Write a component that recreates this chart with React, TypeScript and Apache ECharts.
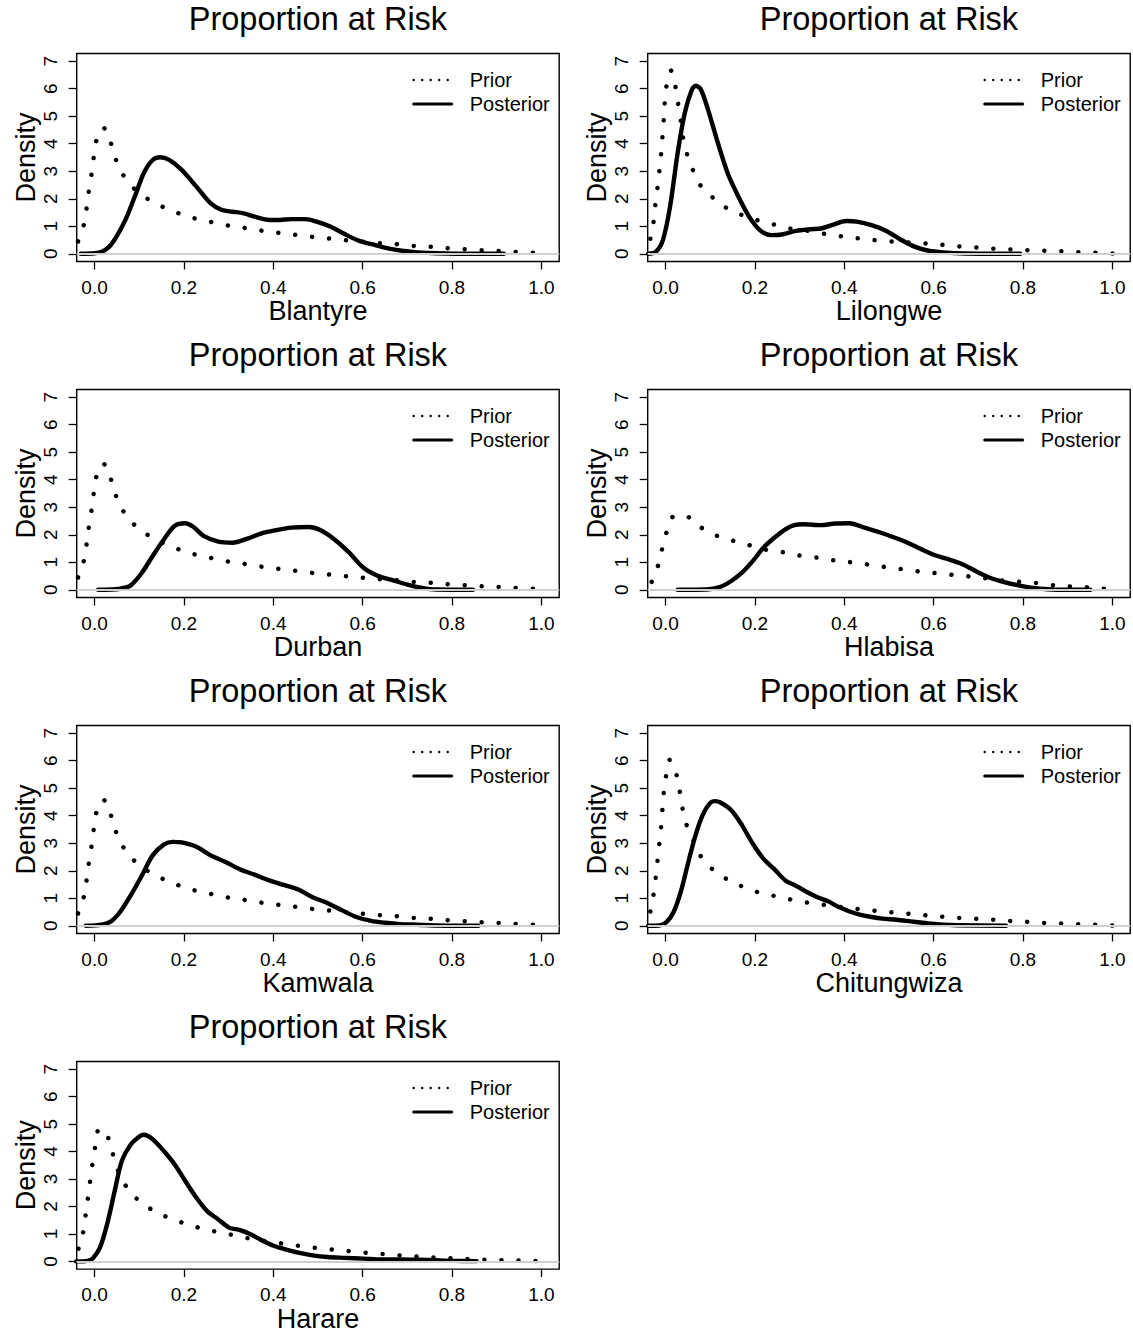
import React, { useEffect, useRef } from "react";
import * as echarts from "echarts";

type Pt = [number, number];

const sites = ["Blantyre", "Lilongwe", "Durban", "Hlabisa", "Kamwala", "Chitungwiza", "Harare"];
const panelTitle = "Proportion at Risk";
const yAxisTitle = "Density";
const legendNames = ["Prior", "Posterior"];
const xTicks = [0, 0.2, 0.4, 0.6, 0.8, 1.0];
const yTicks = [0, 1, 2, 3, 4, 5, 6, 7];

// Prior densities (shared prior for Blantyre, Durban, Kamwala)
const priorShared: Pt[] = [
  [-0.037, 0.45], [-0.024, 1.05], [-0.018, 1.65], [-0.013, 2.26], [-0.007, 2.88], [-0.002, 3.49],
  [0.004, 4.11], [0.02, 4.59], [0.036, 4.05], [0.047, 3.46], [0.063, 2.89], [0.086, 2.41],
  [0.116, 2.02], [0.149, 1.73], [0.185, 1.49], [0.221, 1.3], [0.257, 1.17], [0.295, 1.04],
  [0.333, 0.95], [0.37, 0.85], [0.409, 0.77], [0.446, 0.7], [0.484, 0.62], [0.522, 0.56],
  [0.56, 0.5], [0.597, 0.44], [0.635, 0.39], [0.673, 0.35], [0.711, 0.29], [0.749, 0.26],
  [0.786, 0.21], [0.825, 0.17], [0.863, 0.13], [0.9, 0.11], [0.939, 0.07], [0.977, 0.04], [1.015, 0.0],
];
const priorLilongwe: Pt[] = [
  [-0.034, 0.55], [-0.027, 1.15], [-0.023, 1.76], [-0.018, 2.41], [-0.014, 3.01], [-0.01, 3.62],
  [-0.007, 4.24], [-0.004, 4.86], [-0.002, 5.47], [0.002, 6.09], [0.012, 6.66], [0.022, 6.09],
  [0.028, 5.47], [0.034, 4.86], [0.039, 4.24], [0.048, 3.62], [0.061, 3.05], [0.078, 2.49],
  [0.105, 2.05], [0.134, 1.69], [0.168, 1.43], [0.203, 1.23], [0.241, 1.07], [0.278, 0.92],
  [0.315, 0.84], [0.353, 0.73], [0.391, 0.64], [0.428, 0.57], [0.466, 0.5], [0.504, 0.45],
  [0.542, 0.41], [0.58, 0.38], [0.617, 0.33], [0.655, 0.27], [0.694, 0.23], [0.731, 0.19],
  [0.77, 0.16], [0.808, 0.13], [0.846, 0.11], [0.884, 0.09], [0.922, 0.06], [0.961, 0.04],
  [0.998, 0.01], [1.036, 0.0],
];
const priorHlabisa: Pt[] = [
  [-0.031, 0.29], [-0.017, 0.87], [-0.008, 1.47], [0.002, 2.08], [0.016, 2.65], [0.045, 2.69],
  [0.076, 2.3], [0.109, 2.0], [0.145, 1.81], [0.182, 1.65], [0.219, 1.47], [0.256, 1.39],
  [0.293, 1.26], [0.331, 1.19], [0.368, 1.09], [0.406, 1.02], [0.444, 0.94], [0.482, 0.85],
  [0.519, 0.77], [0.556, 0.69], [0.594, 0.62], [0.632, 0.56], [0.67, 0.5], [0.707, 0.44],
  [0.745, 0.35], [0.783, 0.3], [0.822, 0.26], [0.859, 0.18], [0.897, 0.13], [0.935, 0.1],
  [0.973, 0.05], [1.011, 0.0],
];
const priorChitungwiza: Pt[] = [
  [-0.034, 0.52], [-0.027, 1.13], [-0.022, 1.75], [-0.018, 2.37], [-0.014, 2.98], [-0.01, 3.58],
  [-0.007, 4.24], [-0.004, 4.84], [0.001, 5.44], [0.009, 6.03], [0.023, 5.58], [0.031, 4.97],
  [0.037, 4.35], [0.045, 3.75], [0.061, 3.17], [0.075, 2.62], [0.099, 2.14], [0.129, 1.77],
  [0.163, 1.49], [0.199, 1.26], [0.236, 1.11], [0.273, 0.98], [0.31, 0.86], [0.348, 0.78],
  [0.385, 0.7], [0.423, 0.62], [0.461, 0.56], [0.499, 0.5], [0.536, 0.45], [0.574, 0.39],
  [0.613, 0.34], [0.65, 0.29], [0.688, 0.26], [0.727, 0.23], [0.764, 0.18], [0.802, 0.15],
  [0.841, 0.11], [0.879, 0.09], [0.916, 0.06], [0.955, 0.04], [0.993, 0.01], [1.031, 0.0],
];
const priorHarare: Pt[] = [
  [-0.036, 0.46], [-0.025, 1.09], [-0.02, 1.7], [-0.015, 2.3], [-0.01, 2.91], [-0.005, 3.52],
  [0.001, 4.15], [0.007, 4.75], [0.016, 4.82], [0.025, 4.75], [0.037, 4.15], [0.047, 3.55],
  [0.061, 2.99], [0.082, 2.47], [0.112, 2.05], [0.144, 1.74], [0.179, 1.51], [0.215, 1.31],
  [0.252, 1.15], [0.29, 1.03], [0.326, 0.9], [0.364, 0.78], [0.402, 0.69], [0.44, 0.61],
  [0.478, 0.52], [0.515, 0.46], [0.553, 0.4], [0.591, 0.34], [0.628, 0.29], [0.666, 0.24],
  [0.704, 0.19], [0.742, 0.16], [0.78, 0.12], [0.818, 0.1], [0.856, 0.07], [0.894, 0.05],
  [0.932, 0.04], [0.969, 0.02], [1.008, 0.0],
];

// Posterior densities
const postBlantyre: Pt[] = [
  [-0.031, 0], [0.0, 0.02], [0.016, 0.07], [0.033, 0.26], [0.049, 0.62], [0.069, 1.23],
  [0.09, 2.08], [0.11, 2.93], [0.13, 3.41], [0.147, 3.51], [0.167, 3.41], [0.195, 3.05],
  [0.228, 2.44], [0.26, 1.83], [0.285, 1.59], [0.309, 1.53], [0.334, 1.47], [0.358, 1.35],
  [0.391, 1.23], [0.415, 1.23], [0.44, 1.26], [0.472, 1.26], [0.497, 1.17], [0.529, 0.98],
  [0.562, 0.7], [0.594, 0.46], [0.627, 0.32], [0.659, 0.19], [0.692, 0.1], [0.724, 0.05],
  [0.765, 0.02], [0.847, 0.0], [0.916, 0.0],
];
const postLilongwe: Pt[] = [
  [-0.039, 0], [-0.022, 0.07], [-0.006, 0.5], [0.01, 1.71], [0.027, 3.66], [0.043, 5.12],
  [0.059, 5.97], [0.068, 6.11], [0.079, 5.97], [0.095, 5.24], [0.115, 4.14], [0.139, 2.93],
  [0.163, 2.08], [0.187, 1.35], [0.211, 0.86], [0.236, 0.68], [0.26, 0.7], [0.292, 0.83],
  [0.324, 0.89], [0.348, 0.92], [0.372, 1.04], [0.404, 1.19], [0.428, 1.17], [0.461, 1.04],
  [0.493, 0.84], [0.525, 0.53], [0.557, 0.26], [0.589, 0.11], [0.621, 0.05], [0.67, 0.01],
  [0.794, 0.0],
];
const postDurban: Pt[] = [
  [0.008, 0], [0.057, 0.04], [0.081, 0.16], [0.106, 0.62], [0.13, 1.23], [0.155, 1.83],
  [0.179, 2.32], [0.202, 2.42], [0.22, 2.3], [0.244, 1.96], [0.277, 1.75], [0.309, 1.71],
  [0.342, 1.86], [0.374, 2.05], [0.407, 2.17], [0.44, 2.26], [0.48, 2.28], [0.505, 2.17],
  [0.537, 1.83], [0.57, 1.35], [0.602, 0.8], [0.635, 0.5], [0.667, 0.35], [0.7, 0.19],
  [0.733, 0.07], [0.765, 0.01], [0.847, 0.0],
];
const postHlabisa: Pt[] = [
  [0.027, 0], [0.091, 0.01], [0.123, 0.11], [0.147, 0.32], [0.171, 0.62], [0.195, 1.04],
  [0.219, 1.53], [0.244, 1.9], [0.268, 2.2], [0.288, 2.35], [0.308, 2.38], [0.348, 2.35],
  [0.38, 2.41], [0.412, 2.42], [0.445, 2.26], [0.477, 2.1], [0.509, 1.92], [0.533, 1.77],
  [0.565, 1.53], [0.597, 1.29], [0.629, 1.13], [0.662, 0.95], [0.694, 0.68], [0.726, 0.44],
  [0.758, 0.28], [0.79, 0.16], [0.822, 0.07], [0.855, 0.02], [0.895, 0.0], [0.951, 0.0],
];
const postKamwala: Pt[] = [
  [-0.02, 0], [0.016, 0.04], [0.037, 0.16], [0.057, 0.5], [0.081, 1.11], [0.106, 1.83],
  [0.13, 2.56], [0.155, 2.95], [0.175, 3.05], [0.195, 3.03], [0.228, 2.87], [0.26, 2.56],
  [0.293, 2.32], [0.326, 2.05], [0.358, 1.86], [0.391, 1.65], [0.423, 1.49], [0.456, 1.32],
  [0.488, 1.04], [0.521, 0.83], [0.554, 0.56], [0.586, 0.32], [0.619, 0.18], [0.651, 0.11],
  [0.684, 0.06], [0.724, 0.04], [0.765, 0.01], [0.859, 0.0],
];
const postChitungwiza: Pt[] = [
  [-0.039, 0], [-0.014, 0.01], [0.002, 0.13], [0.018, 0.5], [0.034, 1.23], [0.051, 2.32],
  [0.067, 3.29], [0.083, 4.02], [0.099, 4.45], [0.111, 4.53], [0.123, 4.48], [0.147, 4.2],
  [0.171, 3.66], [0.195, 2.99], [0.219, 2.44], [0.244, 2.05], [0.268, 1.65], [0.292, 1.45],
  [0.316, 1.23], [0.34, 1.04], [0.364, 0.89], [0.388, 0.68], [0.412, 0.52], [0.437, 0.4],
  [0.461, 0.32], [0.485, 0.26], [0.517, 0.22], [0.549, 0.16], [0.581, 0.1], [0.613, 0.05],
  [0.654, 0.02], [0.762, 0.0],
];
const postHarare: Pt[] = [
  [-0.041, 0], [-0.016, 0.02], [-0.004, 0.11], [0.012, 0.5], [0.028, 1.35], [0.045, 2.56],
  [0.061, 3.66], [0.081, 4.26], [0.102, 4.57], [0.11, 4.61], [0.13, 4.45], [0.155, 4.02],
  [0.179, 3.54], [0.203, 2.93], [0.228, 2.32], [0.252, 1.83], [0.277, 1.53], [0.301, 1.23],
  [0.326, 1.14], [0.35, 0.98], [0.374, 0.77], [0.399, 0.58], [0.423, 0.46], [0.456, 0.32],
  [0.488, 0.22], [0.521, 0.16], [0.562, 0.13], [0.602, 0.1], [0.643, 0.07], [0.684, 0.07],
  [0.724, 0.06], [0.765, 0.04], [0.806, 0.02], [0.855, 0.01],
];

const priors = [priorShared, priorLilongwe, priorShared, priorHlabisa, priorShared, priorChitungwiza, priorHarare];
const posteriors = [postBlantyre, postLilongwe, postDurban, postHlabisa, postKamwala, postChitungwiza, postHarare];

const FONT = '"Liberation Sans", Arial, Helvetica, sans-serif';

function buildOption() {
  const colLeft = [76.7, 647.7];
  const boxW = 482.5;
  const boxH = 208;
  const rowTop0 = 53.5;
  const rowStep = 336;
  const hiddenSymbol = { color: "rgba(0,0,0,0)", opacity: 0, borderWidth: 0 };

  const grid: any[] = [];
  const xAxis: any[] = [];
  const yAxis: any[] = [];
  const series: any[] = [];
  const title: any[] = [];
  const legend: any[] = [];

  sites.forEach((site, i) => {
    const col = i % 2;
    const row = Math.floor(i / 2);
    const left = colLeft[col];
    const top = rowTop0 + row * rowStep;

    grid.push({
      left, top, width: boxW, height: boxH,
      show: true, borderColor: "#000", borderWidth: 1.4, backgroundColor: "transparent",
    });
    xAxis.push({
      type: "value", gridIndex: i, min: -0.04, max: 1.04,
      axisLine: { show: false, onZero: false },
      axisTick: { show: true, length: 8, customValues: xTicks, lineStyle: { color: "#000", width: 1.3 } },
      axisLabel: {
        customValues: xTicks, formatter: (v: number) => v.toFixed(1),
        fontSize: 19, color: "#000", margin: 16, fontFamily: FONT,
      },
      splitLine: { show: false },
      name: site, nameLocation: "middle", nameGap: 35,
      nameTextStyle: { fontSize: 27, color: "#000", fontFamily: FONT },
    });
    yAxis.push({
      type: "value", gridIndex: i, min: -0.28, max: 7.28,
      axisLine: { show: false, onZero: false },
      axisTick: { show: true, length: 8, customValues: yTicks, lineStyle: { color: "#000", width: 1.3 } },
      axisLabel: {
        customValues: yTicks, rotate: 90, fontSize: 19, color: "#000", margin: 17, fontFamily: FONT,
      },
      splitLine: { show: false },
      name: yAxisTitle, nameLocation: "middle", nameGap: 37,
      nameTextStyle: { fontSize: 27, color: "#000", fontFamily: FONT },
    });
    series.push({
      name: legendNames[0], type: "line", xAxisIndex: i, yAxisIndex: i,
      data: priors[i], symbol: "none", showSymbol: false, smooth: 0.2,
      lineStyle: { color: "#000", width: 4.5, type: [0.01, 17], cap: "round" },
      itemStyle: { color: "#000" }, z: 2,
    });
    series.push({
      name: legendNames[1], type: "line", xAxisIndex: i, yAxisIndex: i,
      data: posteriors[i], symbol: "none", showSymbol: false, smooth: 0.3,
      lineStyle: { color: "#000", width: 4.4, cap: "round", join: "round" },
      itemStyle: { color: "#000" }, z: 2,
    });
    series.push({
      name: "zero", type: "line", xAxisIndex: i, yAxisIndex: i, data: [], z: 3,
      markLine: {
        silent: true, symbol: "none", animation: false,
        label: { show: false },
        lineStyle: { color: "#cfcfcf", width: 2, type: "solid" },
        data: [{ yAxis: 0 }],
      },
    });
    title.push({
      text: panelTitle, left: left + boxW / 2, top: top - 51.5, textAlign: "center", padding: 0,
      textStyle: { fontSize: 32.5, fontWeight: "normal", color: "#000", fontFamily: FONT },
    });
    legend.push({
      orient: "vertical", left: left + boxW - 147, top: top + 16.5, padding: 0,
      itemWidth: 38, itemHeight: 14, itemGap: 4, selectedMode: false,
      textStyle: { fontSize: 20, lineHeight: 20, color: "#000", fontFamily: FONT, padding: [0, 0, 0, 13] },
      data: [
        {
          name: legendNames[0], itemStyle: hiddenSymbol,
          lineStyle: { width: 2.4, type: [0.01, 8.5], cap: "round", color: "#000" },
        },
        {
          name: legendNames[1], itemStyle: hiddenSymbol,
          lineStyle: { width: 3, type: "solid", color: "#000" },
        },
      ],
    });
  });

  return {
    animation: false,
    backgroundColor: "#fff",
    textStyle: { fontFamily: FONT },
    title, legend, grid, xAxis, yAxis, series,
  };
}

export default function App() {
  const ref = useRef<HTMLDivElement>(null);
  useEffect(() => {
    if (!ref.current) return;
    const chart = echarts.init(ref.current, undefined, { renderer: "svg" });
    chart.setOption(buildOption() as any);
    return () => chart.dispose();
  }, []);
  return (
    <div
      ref={ref}
      style={{ position: "absolute", left: 0, top: 0, width: 1133, height: 1333 }}
    />
  );
}
